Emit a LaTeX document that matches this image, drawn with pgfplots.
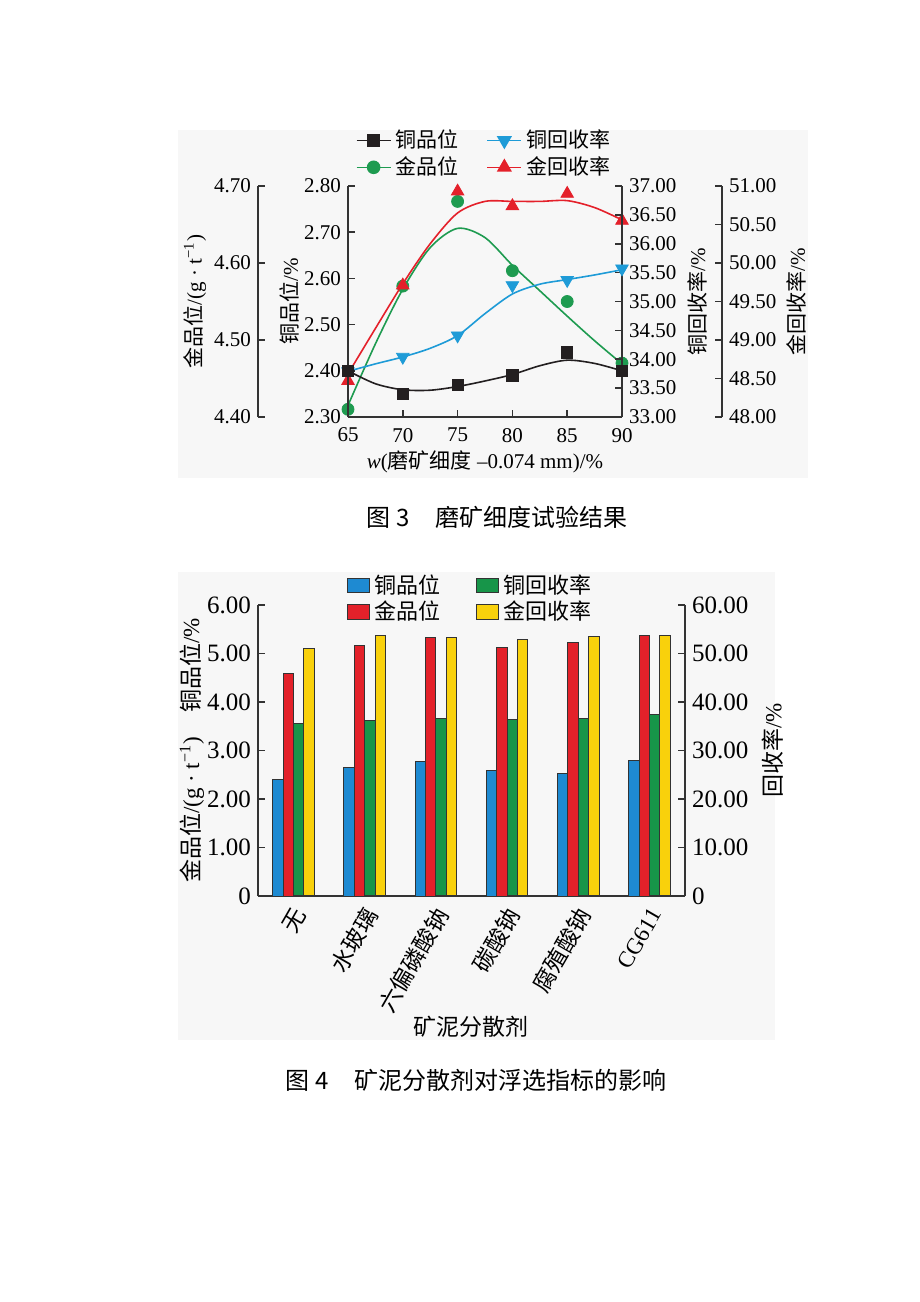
\documentclass[border=0pt]{standalone}
\usepackage{pgfplots}
\pgfplotsset{compat=1.18}
\usepackage{fontspec}
\setmainfont{Liberation Serif}
\newfontfamily\cjk{Noto Sans CJK SC}

\definecolor{axgray}{HTML}{333333}
\definecolor{lblack}{HTML}{231F20}
\definecolor{lblue}{HTML}{1E9BD7}
\definecolor{lgreen}{HTML}{1E9B50}
\definecolor{lred}{HTML}{E4202A}
\definecolor{bblue}{HTML}{1E8AD2}
\definecolor{bred}{HTML}{E3212A}
\definecolor{bgreen}{HTML}{179549}
\definecolor{byellow}{HTML}{F9D10C}

\pgfplotsset{
  base/.style={
    scale only axis, clip=false,
    axis line style={line width=0.8pt, draw=axgray},
    tick style={line width=0.8pt, draw=axgray},
    major tick length=3.5pt, tick align=inside,
    ticklabel style={font=\fontsize{10.5}{12}\selectfont},
    label style={font=\fontsize{10.5}{12}\selectfont},
    /pgf/number format/assume math mode=true,
  },
  big/.style={
    ticklabel style={font=\fontsize{12.5}{14}\selectfont},
    label style={font=\fontsize{11.5}{13}\selectfont},
  },
  two/.style={yticklabel style={/pgf/number format/fixed,
    /pgf/number format/fixed zerofill, /pgf/number format/precision=2}},
  ylab/.style={ylabel style={at={(axis description cs:#1,0.5)}, anchor=center, rotate=0}},
}

\begin{document}
\begin{tikzpicture}
\path[use as bounding box, fill=white] (0,0) rectangle (460pt,-651pt);
\fill[black!3] (89pt,-65pt) rectangle (404pt,-239pt);
\fill[black!3] (89pt,-286pt) rectangle (387.5pt,-520pt);

% ---------- Fig 3 ----------
% outer left: gold grade
\begin{axis}[base, two, at={(129pt,-208.5pt)}, anchor=south west,
  width=182pt, height=115.5pt, xmin=56.788, xmax=90, ymin=4.4, ymax=4.7,
  ytick={4.4,4.5,4.6,4.7}, axis x line=none, axis y line*=left,
  ylab=-0.173, ylabel={{\cjk 金品位}/(g · t\textsuperscript{−1})}]
\addplot[lgreen, line width=0.8pt, smooth] coordinates {
  (65,4.415) (67.5,4.495) (70,4.566) (72.5,4.620) (75,4.645) (77.5,4.633)
  (80,4.597) (82.5,4.564) (85,4.531) (87.5,4.499) (90,4.469)};
\addplot[only marks, mark=*, mark size=3pt, color=lgreen] coordinates {
  (65,4.41) (70,4.57) (75,4.68) (80,4.59) (85,4.55) (90,4.47)};
\end{axis}

% outer right: gold recovery
\begin{axis}[base, two, at={(174pt,-208.5pt)}, anchor=south west,
  width=187pt, height=115.5pt, xmin=65, xmax=99.124, ymin=48, ymax=51,
  ytick={48,48.5,49,49.5,50,50.5,51}, axis x line=none, axis y line*=right,
  ylab=1.2, ylabel={{\cjk 金回收率}/\%}]
\addplot[lred, line width=0.8pt, smooth] coordinates {
  (65,48.56) (67.5,49.15) (70,49.73) (72.5,50.25) (75,50.65) (77.5,50.80)
  (80,50.80) (82.5,50.80) (85,50.81) (87.5,50.72) (90,50.56)};
\addplot[only marks, mark=triangle*, mark size=3.6pt, color=lred] coordinates {
  (65,48.47) (70,49.71) (75,50.93) (80,50.74) (85,50.90) (90,50.55)};
\end{axis}

% inner right: copper recovery
\begin{axis}[base, two, at={(174pt,-208.5pt)}, anchor=south west,
  width=137pt, height=115.5pt, xmin=65, xmax=90, ymin=33, ymax=37,
  ytick={33,33.5,34,34.5,35,35.5,36,36.5,37}, axis x line=none, axis y line*=right,
  ylab=1.274, ylabel={{\cjk 铜回收率}/\%}]
\addplot[lblue, line width=0.8pt, smooth] coordinates {
  (65,33.79) (67.5,33.92) (70,34.04) (72.5,34.19) (75,34.41) (77.5,34.79)
  (80,35.13) (82.5,35.30) (85,35.38) (87.5,35.46) (90,35.55)};
\addplot[only marks, mark=triangle*, mark options={rotate=180}, mark size=3.6pt, color=lblue] coordinates {
  (65,33.79) (70,34.04) (75,34.41) (80,35.28) (85,35.37) (90,35.57)};
\end{axis}

% inner left: copper grade
\begin{axis}[base, two, at={(174pt,-208.5pt)}, anchor=south west,
  width=137pt, height=115.5pt, xmin=65, xmax=90, ymin=2.3, ymax=2.8,
  xtick={65,70,75,80,85,90}, ytick={2.3,2.4,2.5,2.6,2.7,2.8},
  axis x line*=bottom, axis y line*=left,
  xticklabel style={yshift=-2pt},
  ylab=-0.212, ylabel={{\cjk 铜品位}/\%},
  xlabel style={at={(axis description cs:0.5,-0.195)}, anchor=center},
  xlabel={\textit{w}({\cjk 磨矿细度} –0.074 mm)/\%},
  legend columns=2,
  legend style={at={(0.5,1.139)}, anchor=center, draw=none, fill=none,
    font=\fontsize{10.5}{12}\selectfont\cjk, row sep=-1pt,
    /tikz/every even column/.append style={column sep=12pt}},
  legend cell align=left]
\addlegendimage{lblack, line width=0.8pt, mark=square*, mark size=2.8pt}
\addlegendentry{铜品位}
\addlegendimage{lblue, line width=0.8pt, mark=triangle*, mark options={rotate=180}, mark size=3.6pt}
\addlegendentry{铜回收率}
\addlegendimage{lgreen, line width=0.8pt, mark=*, mark size=3pt}
\addlegendentry{金品位}
\addlegendimage{lred, line width=0.8pt, mark=triangle*, mark size=3.6pt}
\addlegendentry{金回收率}
\addplot[lblack, line width=0.8pt, smooth, forget plot] coordinates {
  (65,2.400) (67.5,2.372) (70,2.359) (72.5,2.358) (75,2.366) (77.5,2.378)
  (80,2.392) (82.5,2.411) (85,2.423) (87.5,2.416) (90,2.400)};
\addplot[only marks, mark=square*, mark size=2.8pt, color=lblack, forget plot] coordinates {
  (65,2.40) (70,2.35) (75,2.37) (80,2.39) (85,2.44) (90,2.40)};
\end{axis}

\node[font=\cjk\fontsize{12}{14}\selectfont] at (248.5pt,-258.5pt) {图 3\hspace{13pt}磨矿细度试验结果};

% ---------- Fig 4 ----------
\begin{axis}[base, big, at={(129pt,-448pt)}, anchor=south west,
  width=213.5pt, height=145.5pt, xmin=-0.5, xmax=5.5, ymin=0, ymax=60,
  ytick={0,10,20,30,40,50,60}, yticklabels={0,10.00,20.00,30.00,40.00,50.00,60.00},
  axis x line=none, axis y line*=right,
  ylab=1.205, ylabel={{\cjk 回收率}/\%}]
\addplot[ybar, bar width=5.2pt, bar shift=2.6pt, fill=bgreen, draw=axgray, line width=0.5pt] coordinates {
  (0,35.5) (1,36.2) (2,36.7) (3,36.4) (4,36.6) (5,37.5)};
\addplot[ybar, bar width=5.2pt, bar shift=7.8pt, fill=byellow, draw=axgray, line width=0.5pt] coordinates {
  (0,51.0) (1,53.7) (2,53.2) (3,52.8) (4,53.5) (5,53.8)};
\end{axis}

\begin{axis}[base, big, at={(129pt,-448pt)}, anchor=south west,
  width=213.5pt, height=145.5pt, xmin=-0.5, xmax=5.5, ymin=0, ymax=6,
  ytick={0,1,2,3,4,5,6}, yticklabels={0,1.00,2.00,3.00,4.00,5.00,6.00},
  xtick={0,1,2,3,4,5},
  xticklabels={{\cjk 无},{\cjk 水玻璃},{\cjk 六偏磷酸钠},{\cjk 碳酸钠},{\cjk 腐殖酸钠},CG611},
  xticklabel style={xshift=5pt, yshift=-4pt, rotate=60, anchor=east, font=\fontsize{11.5}{13}\selectfont},
  xtick style={draw=none},
  axis x line*=bottom, axis y line*=left,
  ylab=-0.155, ylabel={{\cjk 金品位}/(g · t\textsuperscript{−1})\hspace{12pt}{\cjk 铜品位}/\%},
  xlabel style={at={(axis description cs:0.5,-0.45)}, anchor=center},
  xlabel={\cjk 矿泥分散剂},
  legend columns=2,
  legend style={at={(0.5,1.022)}, anchor=center, draw=none, fill=none,
    font=\fontsize{11}{12.5}\selectfont\cjk, row sep=-1.5pt,
    /tikz/every even column/.append style={column sep=16pt}},
  legend cell align=left]
\addlegendimage{legend image code/.code={\draw[fill=bblue, draw=axgray, line width=0.5pt] (0pt,-3.6pt) rectangle (11pt,3.6pt);}}
\addlegendentry{铜品位}
\addlegendimage{legend image code/.code={\draw[fill=bgreen, draw=axgray, line width=0.5pt] (0pt,-3.6pt) rectangle (11pt,3.6pt);}}
\addlegendentry{铜回收率}
\addlegendimage{legend image code/.code={\draw[fill=bred, draw=axgray, line width=0.5pt] (0pt,-3.6pt) rectangle (11pt,3.6pt);}}
\addlegendentry{金品位}
\addlegendimage{legend image code/.code={\draw[fill=byellow, draw=axgray, line width=0.5pt] (0pt,-3.6pt) rectangle (11pt,3.6pt);}}
\addlegendentry{金回收率}
\addplot[ybar, bar width=5.2pt, bar shift=-7.8pt, fill=bblue, draw=axgray, line width=0.5pt, forget plot] coordinates {
  (0,2.41) (1,2.64) (2,2.77) (3,2.59) (4,2.53) (5,2.79)};
\addplot[ybar, bar width=5.2pt, bar shift=-2.6pt, fill=bred, draw=axgray, line width=0.5pt, forget plot] coordinates {
  (0,4.59) (1,5.17) (2,5.34) (3,5.13) (4,5.23) (5,5.38)};
\end{axis}

\node[font=\cjk\fontsize{12}{14}\selectfont] at (238pt,-540pt) {图 4\hspace{13pt}矿泥分散剂对浮选指标的影响};
\end{tikzpicture}
\end{document}
